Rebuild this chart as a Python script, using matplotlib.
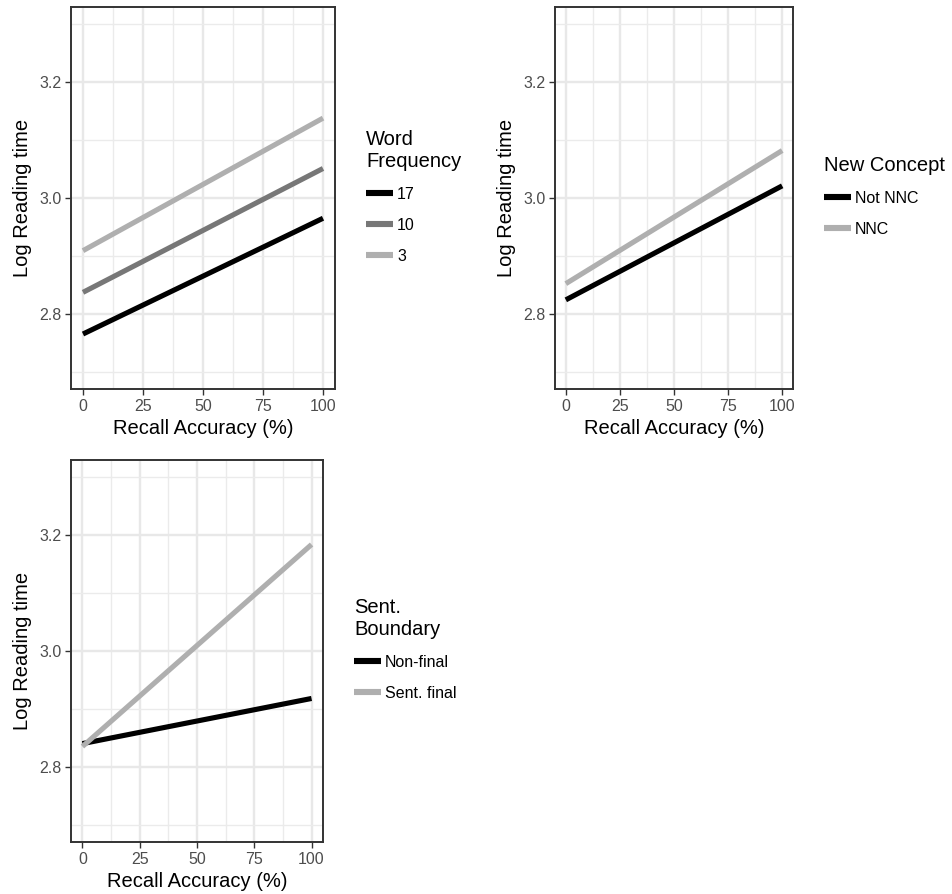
import matplotlib
matplotlib.use("Agg")
import matplotlib.pyplot as plt
from matplotlib.ticker import MultipleLocator

plt.rcParams["font.family"] = ["Liberation Sans", "DejaVu Sans"]

# Recall accuracy endpoints (fitted lines)
recall = [0, 100]

# Panel 1: word frequency
freq_labels = ["17", "10", "3"]
freq_values = [
    [2.765, 2.965],
    [2.837, 3.051],
    [2.909, 3.138],
]
freq_colors = ["#000000", "#777777", "#AFAFAF"]

# Panel 2: new concept
nnc_labels = ["Not NNC", "NNC"]
nnc_values = [
    [2.824, 3.021],
    [2.852, 3.082],
]
nnc_colors = ["#000000", "#AFAFAF"]

# Panel 3: sentence boundary
sent_labels = ["Non-final", "Sent. final"]
sent_values = [
    [2.840, 2.918],
    [2.835, 3.184],
]
sent_colors = ["#000000", "#AFAFAF"]

W, H = 952, 894
fig = plt.figure(figsize=(W / 100, H / 100), dpi=100)
fig.patch.set_facecolor("white")


def px_axes(left, top, right, bottom):
    return fig.add_axes([left / W, 1 - bottom / H, (right - left) / W, (bottom - top) / H])


def style_panel(ax):
    ax.set_xlim(-5, 105)
    ax.set_ylim(2.67, 3.33)
    ax.xaxis.set_major_locator(MultipleLocator(25))
    ax.xaxis.set_minor_locator(MultipleLocator(12.5))
    ax.set_yticks([2.8, 3.0, 3.2])
    ax.set_yticks([2.7, 2.9, 3.1, 3.3], minor=True)
    ax.yaxis.set_major_formatter(matplotlib.ticker.FormatStrFormatter("%.1f"))
    ax.grid(which="major", color="#E8E8E8", linewidth=1.7)
    ax.grid(which="minor", color="#EBEBEB", linewidth=1.0)
    ax.set_axisbelow(True)
    for s in ax.spines.values():
        s.set_color("#333333")
        s.set_linewidth(1.4)
    ax.tick_params(which="major", length=4, width=1.0, color="#333333",
                   labelsize=11.5, labelcolor="#4D4D4D", pad=3)
    ax.tick_params(which="minor", length=0)
    ax.set_xlabel("Recall Accuracy (%)", fontsize=14.5, labelpad=4)
    ax.set_ylabel("Log Reading time", fontsize=14.5, labelpad=5)


def draw_panel(ax, values, labels, colors, title, lx, ly):
    handles = []
    for vals, lab, col in zip(values, labels, colors):
        h, = ax.plot(recall, vals, color=col, linewidth=3.7, solid_capstyle="butt", label=lab)
        handles.append(h)
    style_panel(ax)
    leg = fig.legend(handles=handles, loc="upper left", bbox_to_anchor=(lx / W, 1 - ly / H),
                     frameon=False, title=title, fontsize=11.5, title_fontsize=14.5,
                     handlelength=1.7, handletextpad=0.25, labelspacing=1.0,
                     borderpad=0, borderaxespad=0)
    leg._legend_box.align = "left"
    for line in leg.get_lines():
        line.set_linewidth(4.4)


ax1 = px_axes(71, 7, 335, 389)
draw_panel(ax1, freq_values, freq_labels, freq_colors, "Word\nFrequency", 366, 130)

ax2 = px_axes(555, 7, 793, 389)
draw_panel(ax2, nnc_values, nnc_labels, nnc_colors, "New Concept", 824, 156)

ax3 = px_axes(71, 460, 323, 842)
draw_panel(ax3, sent_values, sent_labels, sent_colors, "Sent.\nBoundary", 354, 598)

fig.savefig("out.png", dpi=100, facecolor="white")
